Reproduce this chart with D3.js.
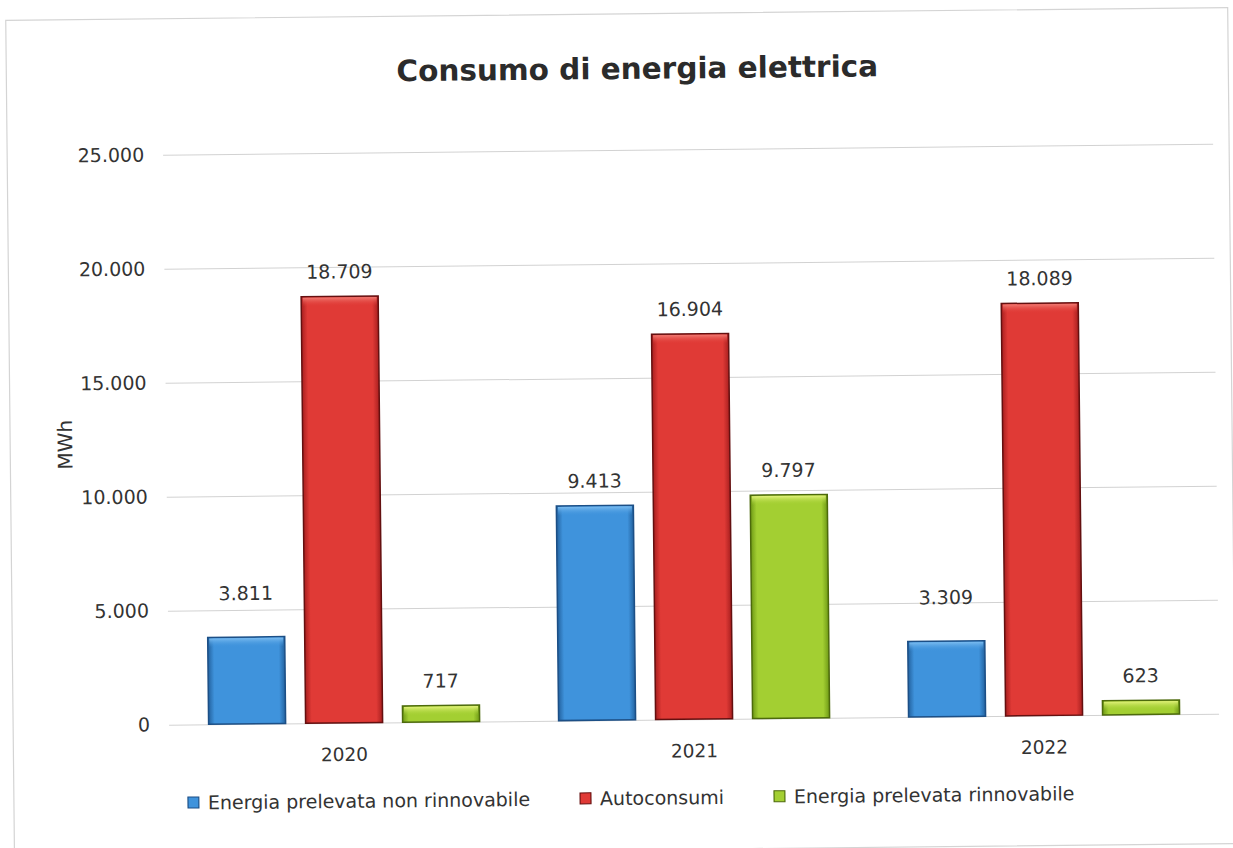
<!DOCTYPE html>
<html>
<head>
<meta charset="utf-8">
<script src="https://cdn.jsdelivr.net/npm/d3@7"></script>
<style>
  body { margin: 0; background: #fff; }
  svg { display: block; }
  text { font-family: "DejaVu Sans", sans-serif; fill: #333; }
</style>
</head>
<body>
<div id="chart"></div>
<script>

// data
let years = ["2020", "2021", "2022"];
let series = ["Energia prelevata non rinnovabile", "Autoconsumi", "Energia prelevata rinnovabile"];
let nonRinnovabile = [3811, 9413, 3309];
let autoconsumi = [18709, 16904, 18089];
let rinnovabile = [717, 9797, 623];
let yTicks = [0, 5000, 10000, 15000, 20000, 25000];

let values = [nonRinnovabile, autoconsumi, rinnovabile];

// the two small blue labels sit higher in the original
let labelNudge = { "0-0": 19, "0-2": 19 };

let width = 1233, height = 848;

let svg = d3.select("#chart")
  .append("svg")
  .attr("width", width)
  .attr("height", height);

// scan is a bit tilted
let g = svg.append("g").attr("transform", "rotate(-0.6, 616, 424)");

let colors = [
  { edge: "#23629f", mid: "#3f93dc", light: "#7bbcf0", stroke: "#1c4f86" },
  { edge: "#a81f1f", mid: "#e03a36", light: "#f07a72", stroke: "#641010" },
  { edge: "#6f9a16", mid: "#a3cf32", light: "#e2f27a", stroke: "#4d6a0c" }
];

let defs = svg.append("defs");
colors.forEach(function(c, i) {
  let lg = defs.append("linearGradient").attr("id", "side" + i)
    .attr("x1", 0).attr("x2", 1).attr("y1", 0).attr("y2", 0);
  lg.append("stop").attr("offset", "0%").attr("stop-color", c.edge);
  lg.append("stop").attr("offset", "8%").attr("stop-color", c.mid);
  lg.append("stop").attr("offset", "92%").attr("stop-color", c.mid);
  lg.append("stop").attr("offset", "100%").attr("stop-color", c.edge);

  let tg = defs.append("linearGradient").attr("id", "top" + i)
    .attr("x1", 0).attr("x2", 0).attr("y1", 0).attr("y2", 1);
  tg.append("stop").attr("offset", "0%").attr("stop-color", c.light);
  tg.append("stop").attr("offset", "100%").attr("stop-color", c.mid).attr("stop-opacity", 0);
});

// chart frame
g.append("rect")
  .attr("x", 10).attr("y", 14)
  .attr("width", 1222).attr("height", 836)
  .attr("fill", "none")
  .attr("stroke", "#d4d4d4")
  .attr("stroke-width", 1.2);

g.append("text")
  .attr("x", 641).attr("y", 79)
  .attr("text-anchor", "middle")
  .style("font-size", "29.5px")
  .style("font-weight", "bold")
  .style("fill", "#2b2b2b")
  .text("Consumo di energia elettrica");

let x0 = d3.scaleBand().domain(years).range([166, 1216]).paddingInner(0).paddingOuter(0);
let x1 = d3.scaleBand().domain(d3.range(series.length))
  .range([0, x0.bandwidth()]).paddingInner(0.206).paddingOuter(0.407);
let y = d3.scaleLinear().domain([0, 25000]).range([720, 150]);

let it = d3.formatLocale({ decimal: ",", thousands: ".", grouping: [3], currency: ["€", ""] });
let fmt = it.format(",.0f");

// gridlines + y labels
let yAxis = g.append("g")
  .attr("transform", "translate(166,0)")
  .call(d3.axisLeft(y).tickValues(yTicks).tickFormat(fmt).tickSize(-1050).tickPadding(19));
yAxis.select(".domain").remove();
yAxis.selectAll("line").attr("stroke", "#d2d2d2").attr("stroke-width", 1);
yAxis.selectAll("text")
  .style("font-size", "19px")
  .style("fill", "#333")
  .attr("font-family", null);

g.append("text")
  .attr("transform", "translate(65,439) rotate(-90)")
  .attr("text-anchor", "middle")
  .attr("dominant-baseline", "central")
  .style("font-size", "20px")
  .text("MWh");

// year labels
let xAxis = g.append("g")
  .attr("transform", "translate(0,720)")
  .call(d3.axisBottom(x0).tickSize(0).tickPadding(25));
xAxis.select(".domain").remove();
xAxis.selectAll("text")
  .style("font-size", "18.5px")
  .style("fill", "#333")
  .attr("font-family", null);

// bars
let cells = [];
years.forEach(function(yr, j) {
  values.forEach(function(arr, i) {
    cells.push({ year: yr, s: i, j: j, v: arr[j] });
  });
});

let bars = g.selectAll(".bar").data(cells).enter()
  .append("g")
  .attr("class", "bar")
  .attr("transform", function(d) { return "translate(" + (x0(d.year) + x1(d.s)) + ",0)"; });

bars.append("rect")
  .attr("x", 0)
  .attr("y", function(d) { return y(d.v); })
  .attr("width", x1.bandwidth())
  .attr("height", function(d) { return y(0) - y(d.v); })
  .attr("fill", function(d) { return "url(#side" + d.s + ")"; })
  .attr("stroke", function(d) { return colors[d.s].stroke; })
  .attr("stroke-width", 1.5);

bars.append("rect")
  .attr("x", 1.5)
  .attr("y", function(d) { return y(d.v) + 1; })
  .attr("width", x1.bandwidth() - 3)
  .attr("height", function(d) { return Math.min(9, y(0) - y(d.v) - 2); })
  .attr("fill", function(d) { return "url(#top" + d.s + ")"; });

bars.append("text")
  .attr("x", x1.bandwidth() / 2)
  .attr("y", function(d) { return y(d.v) - 18 - (labelNudge[d.s + "-" + d.j] || 0); })
  .attr("text-anchor", "middle")
  .style("font-size", "19px")
  .text(function(d) { return fmt(d.v); });

// legend
let legend = g.append("g").attr("transform", "translate(184,798)");
let lx = 0;
series.forEach(function(name, i) {
  let item = legend.append("g").attr("transform", "translate(" + lx + ",0)");
  item.append("rect")
    .attr("x", 0).attr("y", -5.5)
    .attr("width", 11).attr("height", 11)
    .attr("fill", "url(#side" + i + ")")
    .attr("stroke", colors[i].stroke)
    .attr("stroke-width", 1);
  let t = item.append("text")
    .attr("x", 20).attr("y", 0)
    .attr("dominant-baseline", "central")
    .style("font-size", "19px")
    .text(name);
  lx += 20 + t.node().getComputedTextLength() + 50;
});

</script>
</body>
</html>
